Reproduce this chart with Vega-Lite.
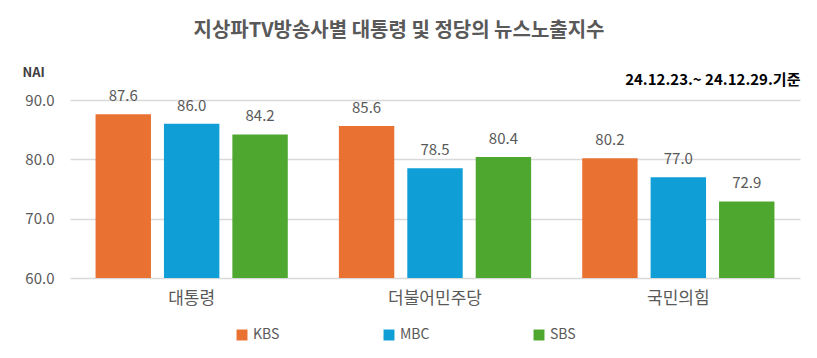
{
  "$schema": "https://vega.github.io/schema/vega-lite/v6.json",
  "width": 730,
  "height": 178,
  "autosize": {"type": "none"},
  "padding": {"left": 70, "top": 100, "right": 17, "bottom": 80},
  "background": "white",
  "config": {"font": "Noto Sans CJK KR", "view": {"stroke": null}},
  "title": {
    "text": "지상파TV방송사별 대통령 및 정당의 뉴스노출지수",
    "fontSize": 20,
    "fontWeight": "bold",
    "color": "#595959",
    "anchor": "middle",
    "dx": -36,
    "offset": 25
  },
  "datasets": {
    "nai": [
      {"group": "대통령", "station": "KBS", "value": 87.6},
      {"group": "대통령", "station": "MBC", "value": 86.0},
      {"group": "대통령", "station": "SBS", "value": 84.2},
      {"group": "더불어민주당", "station": "KBS", "value": 85.6},
      {"group": "더불어민주당", "station": "MBC", "value": 78.5},
      {"group": "더불어민주당", "station": "SBS", "value": 80.4},
      {"group": "국민의힘", "station": "KBS", "value": 80.2},
      {"group": "국민의힘", "station": "MBC", "value": 77.0},
      {"group": "국민의힘", "station": "SBS", "value": 72.9}
    ],
    "note": [
      {"group": "국민의힘", "note": "24.12.23.~ 24.12.29.기준"}
    ]
  },
  "layer": [
    {
      "data": {"name": "nai"},
      "mark": {"type": "bar"},
      "encoding": {
        "x": {
          "field": "group", "type": "nominal",
          "sort": ["대통령", "더불어민주당", "국민의힘"],
          "scale": {"paddingInner": 0.21, "paddingOuter": 0.105},
          "axis": {
            "title": null, "labelAngle": 0, "domain": false, "ticks": false,
            "labelFontSize": 17, "labelColor": "#595959", "labelPadding": 12
          }
        },
        "xOffset": {
          "field": "station", "type": "nominal",
          "sort": ["KBS", "MBC", "SBS"],
          "scale": {"paddingInner": 0.19, "paddingOuter": 0}
        },
        "y": {
          "field": "value", "type": "quantitative",
          "scale": {"domain": [60, 90], "zero": false, "nice": false},
          "axis": {
            "values": [60, 70, 80, 90], "format": ".1f",
            "grid": true, "gridColor": "#D9D9D9", "gridWidth": 1.5,
            "domain": false, "ticks": false,
            "labelFontSize": 15, "labelColor": "#595959", "labelPadding": 16,
            "title": "NAI", "titleAngle": 0, "titleAlign": "left",
            "titleBaseline": "middle", "titleX": -48, "titleY": -28,
            "titleFontSize": 13, "titleFontWeight": "bold", "titleColor": "#404040"
          }
        },
        "y2": {"datum": 60},
        "color": {
          "field": "station", "type": "nominal",
          "scale": {"domain": ["KBS", "MBC", "SBS"], "range": ["#E97132", "#0F9ED5", "#4EA72E"]},
          "legend": {
            "title": null, "orient": "none", "direction": "horizontal",
            "legendX": 165, "legendY": 228,
            "symbolType": "square", "symbolSize": 120, "symbolStrokeWidth": 0,
            "labelFontSize": 14, "labelColor": "#595959", "columnPadding": 102
          }
        }
      }
    },
    {
      "data": {"name": "nai"},
      "mark": {"type": "text", "baseline": "bottom", "dy": -10, "fontSize": 15, "color": "#595959"},
      "encoding": {
        "x": {"field": "group", "type": "nominal", "sort": ["대통령", "더불어민주당", "국민의힘"]},
        "xOffset": {"field": "station", "type": "nominal", "sort": ["KBS", "MBC", "SBS"]},
        "y": {"field": "value", "type": "quantitative"},
        "text": {"field": "value", "type": "quantitative", "format": ".1f"}
      }
    },
    {
      "data": {"name": "note"},
      "mark": {"type": "text", "align": "right", "baseline": "middle", "dx": 26, "fontSize": 15, "fontWeight": "bold", "color": "#000000"},
      "encoding": {
        "x": {"field": "group", "type": "nominal", "sort": ["대통령", "더불어민주당", "국민의힘"], "bandPosition": 1},
        "y": {"datum": 93.4},
        "text": {"field": "note", "type": "nominal"}
      }
    }
  ]
}
